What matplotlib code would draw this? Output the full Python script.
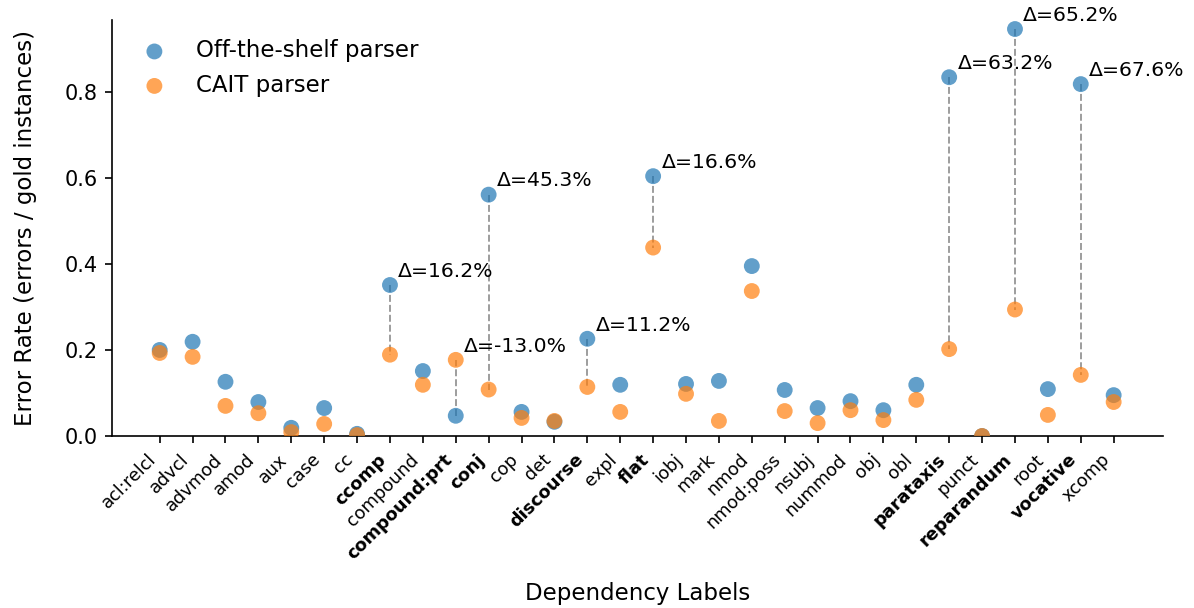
import matplotlib
matplotlib.use("Agg")
import matplotlib.pyplot as plt

labels = ["acl:relcl", "advcl", "advmod", "amod", "aux", "case", "cc", "ccomp",
          "compound", "compound:prt", "conj", "cop", "det", "discourse", "expl",
          "flat", "iobj", "mark", "nmod", "nmod:poss", "nsubj", "nummod", "obj",
          "obl", "parataxis", "punct", "reparandum", "root", "vocative", "xcomp"]
off_shelf = [0.200, 0.219, 0.126, 0.079, 0.019, 0.065, 0.005, 0.351,
             0.151, 0.047, 0.561, 0.056, 0.033, 0.226, 0.119,
             0.604, 0.121, 0.128, 0.395, 0.107, 0.065, 0.081, 0.060,
             0.119, 0.834, 0.000, 0.946, 0.109, 0.818, 0.095]
cait = [0.193, 0.184, 0.070, 0.053, 0.009, 0.028, 0.002, 0.189,
        0.119, 0.177, 0.108, 0.042, 0.035, 0.114, 0.056,
        0.438, 0.098, 0.035, 0.337, 0.058, 0.030, 0.060, 0.037,
        0.084, 0.202, 0.000, 0.294, 0.049, 0.142, 0.079]
highlight = ["ccomp", "compound:prt", "conj", "discourse", "flat",
             "parataxis", "reparandum", "vocative"]
delta_text = ["Δ=16.2%", "Δ=-13.0%", "Δ=45.3%", "Δ=11.2%", "Δ=16.6%",
              "Δ=63.2%", "Δ=65.2%", "Δ=67.6%"]

fig = plt.figure(figsize=(1194/150, 608/150), dpi=150)
ax = fig.add_axes([112/1194, 1-436/608, (1163-112)/1194, (436-20)/608])

x = list(range(len(labels)))
ax.scatter(x, off_shelf, s=58, color="tab:blue", alpha=0.7, edgecolors="none",
           label="Off-the-shelf parser", zorder=3)
ax.scatter(x, cait, s=58, color="tab:orange", alpha=0.7, edgecolors="none",
           label="CAIT parser", zorder=3)

for lab, txt in zip(highlight, delta_text):
    i = labels.index(lab)
    a, b = off_shelf[i], cait[i]
    ax.plot([i, i], [a, b], ls="--", color="gray", lw=0.9, alpha=0.8, zorder=2)
    ax.annotate(txt, (i, max(a, b)), xytext=(4, 2), textcoords="offset points",
                ha="left", va="bottom", fontsize=9.8)

ax.set_xticks(x)
ax.set_xticklabels(labels, rotation=45, ha="right", fontsize=8.5)
for t in ax.get_xticklabels():
    if t.get_text() in highlight:
        t.set_fontweight("bold")
ax.tick_params(axis="y", labelsize=10)
ax.set_xlim(-1.45, 30.5)
ax.set_ylim(0, 0.967)
ax.set_yticks([0.0, 0.2, 0.4, 0.6, 0.8])
ax.spines["top"].set_visible(False)
ax.spines["right"].set_visible(False)
ax.set_xlabel("Dependency Labels", fontsize=11, labelpad=9)
ax.set_ylabel("Error Rate (errors / gold instances)", fontsize=11, labelpad=13)
ax.legend(loc="upper left", frameon=False, fontsize=11, markerscale=1.0,
          handletextpad=0.8, borderaxespad=0.45)

fig.savefig("out.png", dpi=150)
